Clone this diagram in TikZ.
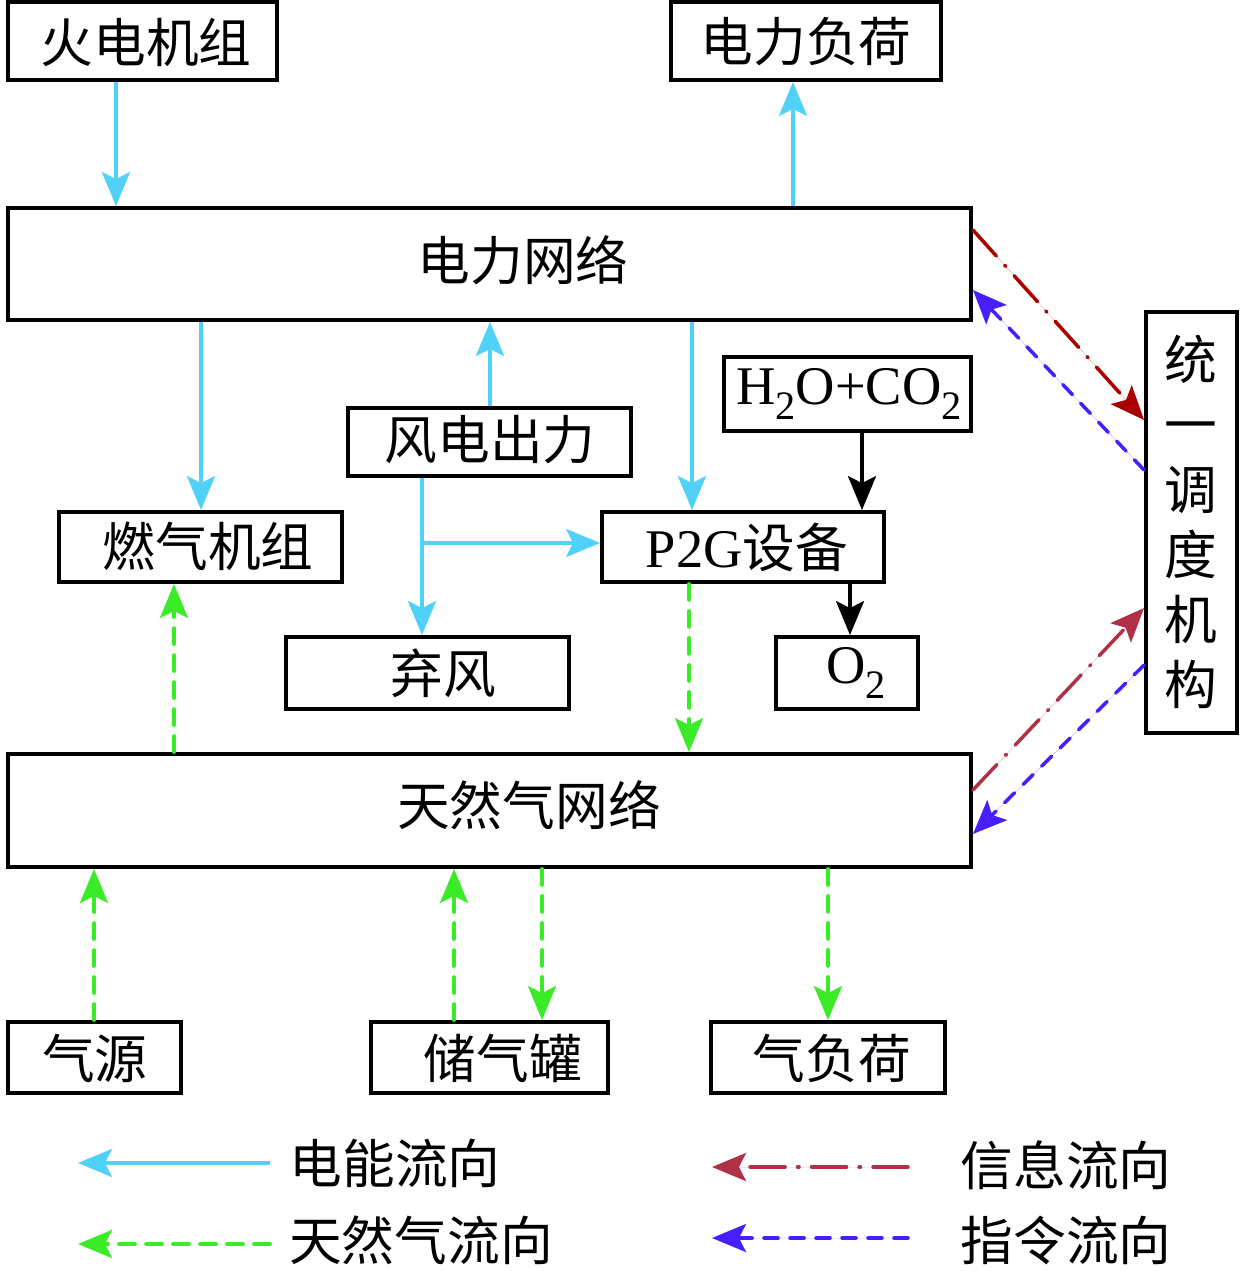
\documentclass[tikz,border=0pt]{standalone}
\usepackage{fontspec}
\setmainfont{Liberation Serif}
\newfontfamily\cjk{Noto Sans CJK SC}
\usetikzlibrary{arrows.meta,fit}
\definecolor{elecc}{RGB}{80,210,248}
\definecolor{gasc}{RGB}{60,235,40}
\definecolor{infoc}{RGB}{170,0,0}
\definecolor{infoc2}{RGB}{176,48,72}
\definecolor{cmdc}{RGB}{70,30,255}
\newcommand\lat[1]{{\rmfamily\fontsize{31}{35}\selectfont #1}}
\newcommand\subtwo{\raisebox{-0.28em}{\fontsize{23}{23}\selectfont 2}}
\tikzset{
  box/.style={draw, line width=2.2pt, inner sep=0pt},
  txt/.style={inner sep=0pt, font=\cjk\fontsize{30}{37}\selectfont},
  tip/.style={-{Stealth[length=0.68cm,width=0.56cm,inset=0.14cm]}},
  elec/.style={tip, draw=elecc, fill=elecc, line width=2.1pt},
  gas/.style={tip, draw=gasc, fill=gasc, line width=2.1pt, line cap=round, dash pattern=on 0.32cm off 0.22cm},
  blk/.style={tip, draw=black, fill=black, line width=2.1pt},
  info/.style={tip, line width=2pt, line cap=round, dash pattern=on 0.7cm off 0.25cm on 0.03cm off 0.25cm},
  cmd/.style={tip, draw=cmdc, fill=cmdc, line width=2pt, line cap=round, dash pattern=on 0.28cm off 0.24cm},
}
\begin{document}
\begin{tikzpicture}[x=0.02cm,y=-0.02cm]
\useasboundingbox (0,0) rectangle (1242,1271);
% boxes
\node[box, fit={(8,2)(277,80)}] (hd) {};
\node[box, fit={(671,2)(941,80)}] (fh) {};
\node[box, fit={(8,208)(971,320)}] (pn) {};
\node[box, fit={(1146,312)(1237,733)}] (ty) {};
\node[box, fit={(724,357)(971,431)}] (hc) {};
\node[box, fit={(348,408)(631,476)}] (wp) {};
\node[box, fit={(59,512)(342,582)}] (gt) {};
\node[box, fit={(602,512)(884,582)}] (pg) {};
\node[box, fit={(286,637)(569,709)}] (qf) {};
\node[box, fit={(776,637)(918,709)}] (oo) {};
\node[box, fit={(8,754)(971,867)}] (gn) {};
\node[box, fit={(8,1022)(181,1093)}] (qy) {};
\node[box, fit={(371,1022)(608,1093)}] (cq) {};
\node[box, fit={(711,1022)(945,1093)}] (qh) {};
% texts
\node[txt] (hdT) at (146,42) {火电机组};
\node[txt] (fhT) at (806,42) {电力负荷};
\node[txt] (pnT) at (523,260) {电力网络};
\node[txt, align=center] (tyT) at (1191,522) {统\\一\\调\\度\\机\\构};
\node[txt] (hcT) at (849,394) {\lat{H\subtwo O+CO\subtwo}};
\node[txt] (wpT) at (490,440) {风电出力};
\node[txt] (gtT) at (208,546) {燃气机组};
\node[txt] (pgT) at (747,547) {\lat{P2G}设备};
\node[txt] (qfT) at (443,673) {弃风};
\node[txt] (ooT) at (856,673) {\lat{O\subtwo}};
\node[txt] (gnT) at (529,805) {天然气网络};
\node[txt] (qyT) at (95,1058) {气源};
\node[txt] (cqT) at (503,1058) {储气罐};
\node[txt] (qhT) at (832,1058) {气负荷};
% electricity
\draw[elec] (hd.south -| 116,0) -- (pn.north -| 116,0);
\draw[elec] (pn.north -| 793,0) -- (fh.south -| 793,0);
\draw[elec] (pn.south -| 201,0) -- (gt.north -| 201,0);
\draw[elec] (wp.north -| 490,0) -- (pn.south -| 490,0);
\draw[elec] (pn.south -| 692,0) -- (pg.north -| 692,0);
\draw[elec] (wp.south -| 422,0) -- (qf.north -| 422,0);
\coordinate (br) at (422,543);
\draw[elec] (br) -- (pg.west |- br);
% black
\draw[blk] (hc.south -| 862,0) -- (pg.north -| 862,0);
\draw[blk] (pg.south -| 850,0) -- (oo.north -| 850,0);
% gas
\draw[gas] (pg.south -| 689,0) -- (gn.north -| 689,0);
\draw[gas] (gn.north -| 174,0) -- (gt.south -| 174,0);
\draw[gas] (qy.north -| 94,0) -- (gn.south -| 94,0);
\draw[gas] (cq.north -| 454,0) -- (gn.south -| 454,0);
\draw[gas] (gn.south -| 542,0) -- (cq.north -| 542,0);
\draw[gas] (gn.south -| 828,0) -- (qh.north -| 828,0);
% info / command
\draw[info, draw=infoc, fill=infoc] (pn.east |- 0,230) -- (ty.west |- 0,420);
\draw[cmd] (ty.west |- 0,470) -- (pn.east |- 0,290);
\draw[info, draw=infoc2, fill=infoc2] (gn.east |- 0,790) -- (ty.west |- 0,608);
\draw[cmd] (ty.west |- 0,665) -- (gn.east |- 0,834);
% legend
\coordinate (l1a) at (270,1163); \coordinate (l1b) at (78,1163);
\coordinate (l2a) at (270,1244); \coordinate (l2b) at (78,1244);
\coordinate (l3a) at (908,1167); \coordinate (l3b) at (712,1167);
\coordinate (l4a) at (908,1238); \coordinate (l4b) at (712,1238);
\draw[elec] (l1a) -- (l1b);
\draw[gas] (l2a) -- (l2b);
\draw[info, draw=infoc2, fill=infoc2] (l3a) -- (l3b);
\draw[cmd] (l4a) -- (l4b);
\node[txt] (lg1) at (395,1163) {电能流向};
\node[txt] (lg2) at (421,1240) {天然气流向};
\node[txt] (lg3) at (1066,1165) {信息流向};
\node[txt] (lg4) at (1066,1240) {指令流向};
\end{tikzpicture}
\end{document}
